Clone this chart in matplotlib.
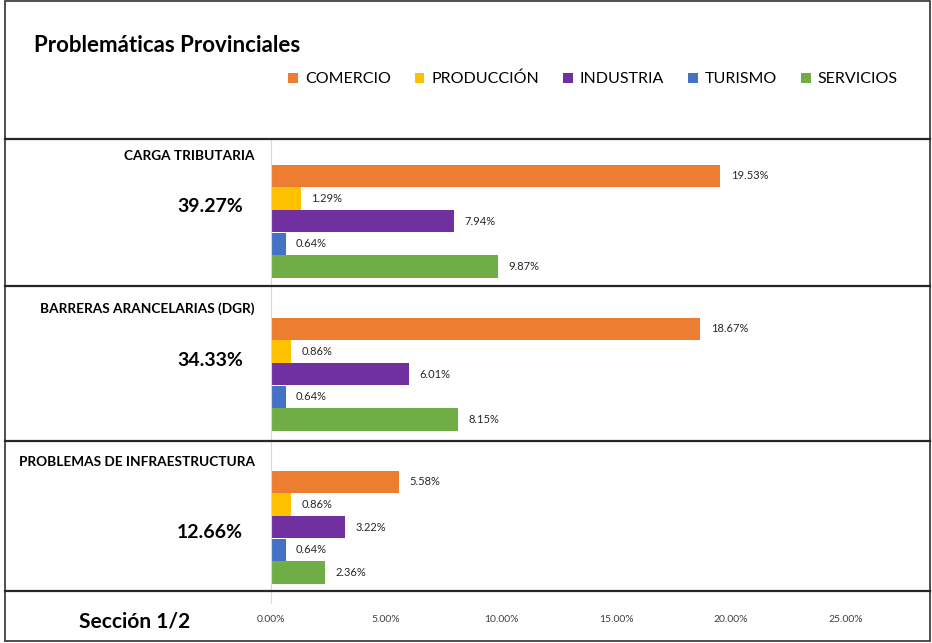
import matplotlib.pyplot as plt
from matplotlib.lines import Line2D
from matplotlib.patches import Rectangle

plt.rcParams['font.family'] = ['Lato', 'DejaVu Sans']

# datos
problemas = ["CARGA TRIBUTARIA", "BARRERAS ARANCELARIAS (DGR)", "PROBLEMAS DE INFRAESTRUCTURA"]
totales = ["39.27%", "34.33%", "12.66%"]
sectores = ["COMERCIO", "PRODUCCIÓN", "INDUSTRIA", "TURISMO", "SERVICIOS"]
comercio = [19.53, 18.67, 5.58]
produccion = [1.29, 0.86, 0.86]
industria = [7.94, 6.01, 3.22]
turismo = [0.64, 0.64, 0.64]
servicios = [9.87, 8.15, 2.36]
ticks = [0, 5, 10, 15, 20, 25]

series = [comercio, produccion, industria, turismo, servicios]
colores = ['#ED7D31', '#FFC000', '#7030A0', '#4472C4', '#70AD47']

W, H = 932, 643
fig = plt.figure(figsize=(9.32, 6.43), dpi=100)


def fx(px):
    return px / W


def fy(py):
    return 1 - py / H


ax = fig.add_axes([fx(271), fy(603), fx(930) - fx(271), fy(140) - fy(603)])

# barras: cada grupo ocupa 153 unidades, cada barra 22.6
handles = []
for j, (vals, col) in enumerate(zip(series, colores)):
    ys = [i * 153 + 36 + j * 22.6 for i in range(len(problemas))]
    b = ax.barh(ys, vals, height=22.4, color=col)
    handles.append(b)
    for y, v in zip(ys, vals):
        ax.text(v + 0.45, y, f"{v:.2f}%", va='center', ha='left', fontsize=8, color='#262626')

ax.set_ylim(463, 0)
ax.set_xlim(0, 28.65)
ax.set_yticks([])
ax.set_xticks(ticks)
ax.set_xticklabels([f"{t:.2f}%" for t in ticks], fontsize=7.5, color='#404040')
ax.tick_params(axis='x', length=0, pad=9)
for s in ['top', 'right', 'bottom']:
    ax.spines[s].set_visible(False)
ax.spines['left'].set_color('#d9d9d9')

# marco y separadores
fig.add_artist(Rectangle((fx(5), fy(641)), fx(930) - fx(5), fy(1) - fy(641),
                         transform=fig.transFigure, fill=False, ec='#404040', lw=1.3))
for yl in [139, 286, 441, 591]:
    fig.add_artist(Line2D([fx(5), fx(930)], [fy(yl), fy(yl)], color='#262626', lw=1.6))

# textos
fig.text(fx(34), fy(46), "Problemáticas Provinciales", fontsize=16, fontweight='bold', va='center')
for i, p in enumerate(problemas):
    fig.text(fx(255), fy(156 + i * 153), p, ha='right', va='center', fontsize=9.8, fontweight='bold')
for t, yp in zip(totales, [206, 360, 532]):
    fig.text(fx(210), fy(yp), t, ha='center', va='center', fontsize=14, fontweight='bold')
fig.text(fx(135), fy(621), "Sección 1/2", ha='center', va='center', fontsize=15, fontweight='bold')

fig.legend(handles, sectores, loc='center', bbox_to_anchor=(fx(593), fy(79)), ncol=5,
           frameon=False, fontsize=11.5, handlelength=0.6, handleheight=0.6,
           handletextpad=0.45, columnspacing=1.5)

fig.savefig("out.png", dpi=100)
